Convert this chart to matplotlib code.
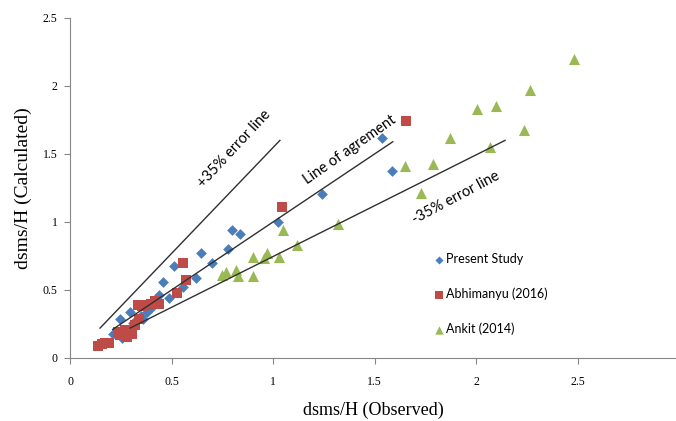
import numpy as np
import matplotlib.pyplot as plt

# Present Study
ps_x = [1.537, 1.586, 1.241, 1.024, 0.80, 0.837, 0.78, 0.645, 0.70, 0.51, 0.46, 0.62,
        0.557, 0.49, 0.44, 0.296, 0.38, 0.36, 0.246, 0.21, 0.256, 0.27, 0.31, 0.40, 0.35]
ps_y = [1.62, 1.375, 1.206, 1.0, 0.94, 0.91, 0.80, 0.77, 0.70, 0.675, 0.56, 0.59,
        0.52, 0.44, 0.46, 0.34, 0.34, 0.29, 0.29, 0.18, 0.15, 0.16, 0.26, 0.37, 0.31]

# Abhimanyu (2016)
ab_x = [1.655, 1.044, 0.557, 0.57, 0.527, 0.44, 0.42, 0.335, 0.355, 0.38, 0.40, 0.34,
        0.32, 0.305, 0.27, 0.236, 0.246, 0.28, 0.305, 0.19, 0.17, 0.14, 0.16]
ab_y = [1.74, 1.11, 0.70, 0.57, 0.48, 0.40, 0.42, 0.39, 0.38, 0.39, 0.40, 0.29,
        0.24, 0.205, 0.205, 0.19, 0.17, 0.155, 0.18, 0.11, 0.11, 0.09, 0.10]

# Ankit (2014)
an_x = [2.483, 2.266, 2.005, 2.10, 2.236, 1.87, 2.07, 1.65, 1.79, 1.73, 1.32, 1.12,
        1.05, 0.90, 0.97, 0.955, 1.03, 0.75, 0.77, 0.82, 0.83, 0.90]
an_y = [2.20, 1.97, 1.83, 1.85, 1.68, 1.62, 1.55, 1.41, 1.43, 1.21, 0.985, 0.83,
        0.94, 0.74, 0.77, 0.735, 0.74, 0.61, 0.63, 0.65, 0.60, 0.60]

# reference lines
plus_x, plus_y = [0.148, 1.034], [0.22, 1.60]
agree_x, agree_y = [0.21, 1.59], [0.21, 1.59]
minus_x, minus_y = [0.296, 2.143], [0.22, 1.60]

fig = plt.figure(figsize=(6.76, 4.21), dpi=100)
ax = fig.add_axes([70/676, 63/421, 606/676, 340/421])

ax.scatter(ps_x, ps_y, marker='D', s=30, color='#4A7EBB', linewidths=0, label='Present Study', zorder=2)
ax.scatter(ab_x, ab_y, marker='s', s=58, color='#BE4B48', linewidths=0, label='Abhimanyu (2016)', zorder=3)
ax.scatter(an_x, an_y, marker='^', s=64, color='#98B954', linewidths=0, label='Ankit (2014)', zorder=4)

for lx, ly in [(plus_x, plus_y), (agree_x, agree_y), (minus_x, minus_y)]:
    ax.plot(lx, ly, color='#303030', lw=1, zorder=5)

tfont = dict(family='Lato', fontsize=10.5, ha='center', va='center', rotation_mode='anchor')
ax.text(0.81, 1.54, '+35% error line', rotation=47, **tfont)
ax.text(1.38, 1.53, 'Line of agrement', rotation=35, **tfont)
ax.text(1.90, 1.18, '-35% error line', rotation=28, **tfont)

ax.set_xlim(0, 606/203)
ax.set_ylim(0, 2.5)
ax.set_xticks([0, 0.5, 1, 1.5, 2, 2.5])
ax.set_xticklabels(['0', '0.5', '1', '1.5', '2', '2.5'])
ax.set_yticks([0, 0.5, 1, 1.5, 2, 2.5])
ax.set_yticklabels(['0', '0.5', '1', '1.5', '2', '2.5'])

for s in ['top', 'right']:
    ax.spines[s].set_visible(False)
for s in ['left', 'bottom']:
    ax.spines[s].set_color('#868686')
ax.tick_params(axis='both', colors='#868686', labelcolor='black', length=4, labelsize=8.5)
ax.tick_params(axis='x', pad=9)
ax.tick_params(axis='y', pad=5)
for lab in ax.get_xticklabels() + ax.get_yticklabels():
    lab.set_family('Liberation Serif')

ax.set_xlabel('dsms/H (Observed)', family='Liberation Serif', fontsize=13, labelpad=10)
ax.set_ylabel('dsms/H (Calculated)', family='Liberation Serif', fontsize=14, labelpad=8)

leg = ax.legend(loc='upper left', bbox_to_anchor=(426/676, 1 - 247/421), bbox_transform=fig.transFigure,
                frameon=False, prop={'family': 'Lato', 'size': 9}, handletextpad=0.1,
                labelspacing=1.8, borderpad=0, scatterpoints=1, markerscale=0.75, handlelength=1)

plt.savefig('out.png', dpi=100)
